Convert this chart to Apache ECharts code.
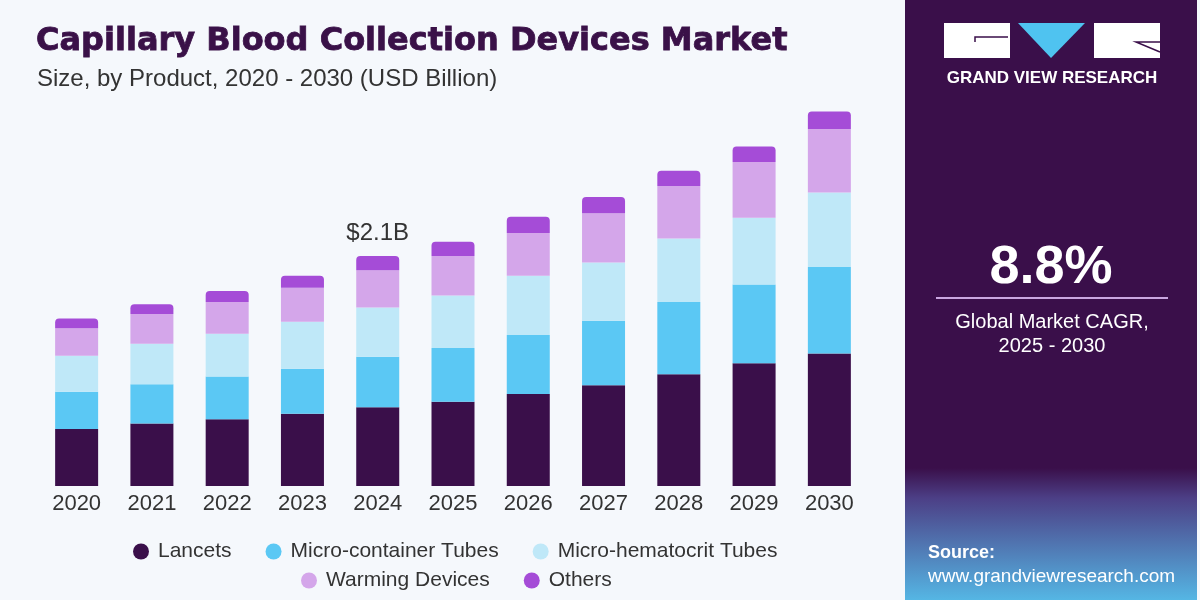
<!DOCTYPE html>
<html>
<head>
<meta charset="utf-8">
<script src="https://cdn.jsdelivr.net/npm/echarts@6/dist/echarts.min.js"></script>
<style>
  html, body { margin: 0; padding: 0; background: #f5f8fc; }
  #chart { width: 1200px; height: 600px; }
</style>
</head>
<body>
<div id="chart"></div>
<script>
// 数据
const years = ["2020", "2021", "2022", "2023", "2024", "2025", "2026", "2027", "2028", "2029", "2030"];
const lancets = [0.52, 0.57, 0.61, 0.66, 0.72, 0.77, 0.84, 0.92, 1.02, 1.12, 1.21];
const microContainer = [0.34, 0.36, 0.39, 0.41, 0.46, 0.49, 0.54, 0.59, 0.66, 0.72, 0.79];
const microHematocrit = [0.33, 0.37, 0.39, 0.43, 0.45, 0.48, 0.54, 0.53, 0.58, 0.61, 0.68];
const warming = [0.25, 0.27, 0.29, 0.31, 0.34, 0.36, 0.39, 0.45, 0.48, 0.51, 0.58];
const others = [0.09, 0.09, 0.10, 0.11, 0.13, 0.13, 0.15, 0.15, 0.14, 0.14, 0.16];
const highlightYear = "2024";
const cagr = "8.8%";

const font = "'Liberation Sans', Arial, sans-serif";
const hi = years.indexOf(highlightYear);
const hiTotal = lancets[hi] + microContainer[hi] + microHematocrit[hi] + warming[hi] + others[hi];

function seg(name, data, color, top) {
  return {
    name: name,
    type: "bar",
    stack: "total",
    barWidth: 43,
    data: data.map(function (v, i) {
      if (top && i === hi) {
        // 2024 总额标签
        return {
          value: v,
          label: {
            show: true,
            position: "top",
            distance: 11,
            formatter: "$" + hiTotal.toFixed(1) + "B",
            fontFamily: font,
            fontSize: 24,
            color: "#333"
          }
        };
      }
      return v;
    }),
    itemStyle: {
      color: color,
      borderRadius: top ? [4, 4, 0, 0] : 0
    }
  };
}

const legendText = { fontFamily: font, fontSize: 21, color: "#333", padding: [0, 0, 0, 4] };

const myChart = echarts.init(document.getElementById("chart"));
const option = {
  backgroundColor: "#f5f8fc",
  animation: false,
  title: [
    {
      text: "Capillary Blood Collection Devices Market",
      left: 31,
      top: 21,
      textStyle: {
        fontFamily: "'DejaVu Sans', sans-serif",
        fontWeight: "bold",
        fontSize: 32,
        color: "#3a1148",
        textBorderColor: "#3a1148",
        textBorderWidth: 0.8
      }
    },
    {
      text: "Size, by Product, 2020 - 2030 (USD Billion)",
      left: 32,
      top: 62,
      textStyle: {
        fontFamily: font,
        fontWeight: "normal",
        fontSize: 24,
        color: "#333"
      }
    }
  ],
  grid: { left: 39, right: 333, top: 48, bottom: 114 },
  xAxis: {
    type: "category",
    data: years,
    axisLine: { show: false },
    axisTick: { show: false },
    axisLabel: {
      margin: 7,
      fontFamily: font,
      fontSize: 22,
      color: "#333"
    }
  },
  yAxis: {
    type: "value",
    min: 0,
    max: 4,
    show: false
  },
  legend: [
    {
      data: ["Lancets", "Micro-container Tubes", "Micro-hematocrit Tubes"],
      left: 128,
      top: 536,
      icon: "circle",
      itemWidth: 16,
      itemHeight: 16,
      itemGap: 34,
      textStyle: legendText
    },
    {
      data: ["Warming Devices", "Others"],
      left: 296,
      top: 565,
      icon: "circle",
      itemWidth: 16,
      itemHeight: 16,
      itemGap: 34,
      textStyle: legendText
    }
  ],
  series: [
    seg("Lancets", lancets, "#3a0f4a", false),
    seg("Micro-container Tubes", microContainer, "#5bc8f4", false),
    seg("Micro-hematocrit Tubes", microHematocrit, "#bfe8f8", false),
    seg("Warming Devices", warming, "#d4a6ea", false),
    seg("Others", others, "#a54cd7", true)
  ],
  graphic: [
    // 右侧面板
    {
      type: "rect",
      shape: { x: 905, y: 0, width: 292, height: 600 },
      style: {
        fill: new echarts.graphic.LinearGradient(0, 0, 0, 1, [
          { offset: 0, color: "#3a0f4a" },
          { offset: 0.78, color: "#3a0f4a" },
          { offset: 0.83, color: "#4c3f86" },
          { offset: 1, color: "#55b6e4" }
        ])
      }
    },
    // logo
    { type: "rect", shape: { x: 944, y: 23, width: 66, height: 35 }, style: { fill: "#ffffff" } },
    { type: "polyline", shape: { points: [[975, 42], [975, 37], [1008, 37]] }, style: { stroke: "#3a0f4a", lineWidth: 1.5, fill: null } },
    { type: "polygon", shape: { points: [[1018, 23], [1085, 23], [1051, 58]] }, style: { fill: "#4fc3f0" } },
    { type: "rect", shape: { x: 1094, y: 23, width: 66, height: 35 }, style: { fill: "#ffffff" } },
    { type: "polyline", shape: { points: [[1160, 42], [1136, 42], [1160, 52]] }, style: { stroke: "#3a0f4a", lineWidth: 1.5, fill: null } },
    {
      type: "text",
      x: 1052, y: 78,
      style: {
        text: "GRAND VIEW RESEARCH",
        textAlign: "center", textVerticalAlign: "middle",
        fontFamily: font,
        fontWeight: "bold", fontSize: 17, fill: "#ffffff"
      }
    },
    {
      type: "text",
      x: 1051, y: 268,
      style: {
        text: cagr,
        textAlign: "center", textVerticalAlign: "middle",
        fontFamily: font,
        fontWeight: "bold", fontSize: 54, fill: "#ffffff"
      }
    },
    { type: "line", shape: { x1: 936, y1: 298, x2: 1168, y2: 298 }, style: { stroke: "#c9a6e0", lineWidth: 2 } },
    {
      type: "text",
      x: 1052, y: 322,
      style: {
        text: "Global Market CAGR,",
        textAlign: "center", textVerticalAlign: "middle",
        fontFamily: font, fontSize: 20, fill: "#ffffff"
      }
    },
    {
      type: "text",
      x: 1052, y: 346,
      style: {
        text: "2025 - 2030",
        textAlign: "center", textVerticalAlign: "middle",
        fontFamily: font, fontSize: 20, fill: "#ffffff"
      }
    },
    {
      type: "text",
      x: 928, y: 553,
      style: {
        text: "Source:",
        textVerticalAlign: "middle",
        fontFamily: font,
        fontWeight: "bold", fontSize: 18, fill: "#ffffff"
      }
    },
    {
      type: "text",
      x: 928, y: 577,
      style: {
        text: "www.grandviewresearch.com",
        textVerticalAlign: "middle",
        fontFamily: font, fontSize: 19, fill: "#ffffff"
      }
    }
  ]
};
myChart.setOption(option);
</script>
</body>
</html>
